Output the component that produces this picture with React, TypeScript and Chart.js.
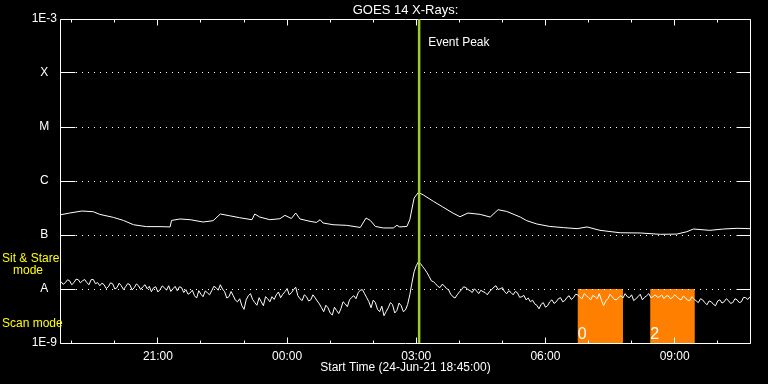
import { useEffect, useRef } from 'react';
import { Chart, registerables } from 'chart.js';

Chart.register(...registerables);

// ---- data (time in minutes after start 24-Jun-21 18:45:00) ----
const longMinutes = [
  0, 12, 29, 45, 54, 73, 87, 101, 119, 138, 152, 154, 166, 180, 198, 212, 222, 235, 249, 266,
  270, 277, 291, 305, 312, 321, 327, 333, 347, 356, 361, 365, 379, 398, 417, 425, 431, 438, 449, 463,
  468, 472, 482, 486, 492, 498, 505, 519, 532, 546, 556, 567, 584, 598, 609, 621, 640, 649, 663, 681,
  700, 719, 733, 751, 779, 807, 835, 858, 872, 881, 904, 923, 942, 960,
];
// long channel flux, units of 1e-7 W/m^2
const longFlux = [
  2.38, 2.55, 2.78, 2.7, 2.41, 2.12, 1.86, 1.55, 1.43, 1.43, 1.41, 1.86, 1.98, 1.92, 1.74, 1.84, 2.45, 2.27, 2.09, 1.92,
  2.45, 2.15, 1.92, 2.0, 2.31, 2.02, 2.55, 1.98, 1.79, 1.71, 1.92, 1.67, 1.55, 1.51, 1.38, 2.06, 1.86, 1.44, 1.35, 1.35,
  1.51, 1.41, 1.44, 1.92, 4.84, 6.15, 5.5, 4.19, 3.3, 2.55, 2.18, 2.55, 2.41, 2.15, 2.94, 2.73, 2.15, 1.84, 1.6, 1.44,
  1.37, 1.31, 1.41, 1.22, 1.1, 1.09, 1.03, 1.04, 1.15, 1.29, 1.22, 1.29, 1.33, 1.31,
];
// short channel flux, units of 1e-8 W/m^2, one sample every 3 minutes
const SHORT_STEP_MIN = 3;
const shortFlux = [
  1.37, 1.22, 1.31, 1.48, 1.42, 1.2, 1.31, 1.52, 1.49, 1.3, 1.42, 1.5, 1.31, 1.2, 1.49, 1.5, 1.25, 1.32, 1.15, 1.28,
  1.2, 1.02, 1.1, 1.3, 1.25, 1.0, 1.06, 1.28, 1.15, 0.98, 1.1, 1.26, 1.2, 0.96, 1.06, 1.24, 1.15, 0.98, 1.1, 1.2,
  1.01, 1.12, 0.89, 1.05, 1.1, 0.88, 0.97, 1.14, 1.06, 0.95, 1.15, 0.9, 1.01, 1.12, 0.93, 1.1, 1.06, 0.86, 0.97, 0.8,
  0.85, 0.95, 0.75, 0.68, 0.93, 0.8, 0.72, 0.92, 0.85, 0.78, 0.93, 1.12, 1.06, 0.95, 1.2, 1.0, 0.89, 0.68, 0.72, 0.9,
  0.75, 0.62, 0.58, 0.66, 0.49, 0.42, 0.63, 0.75, 0.82, 0.64, 0.56, 0.5, 0.69, 0.58, 0.49, 0.72, 0.66, 0.58, 0.72, 0.64,
  0.78, 0.88, 0.69, 0.8, 0.89, 1.02, 0.78, 0.85, 0.97, 1.08, 0.75, 0.66, 0.61, 0.78, 0.72, 0.6, 0.63, 0.78, 0.69, 0.6,
  0.53, 0.45, 0.38, 0.5, 0.45, 0.36, 0.33, 0.46, 0.4, 0.35, 0.43, 0.58, 0.53, 0.47, 0.63, 0.7, 0.75, 0.66, 0.85, 0.95,
  0.97, 0.82, 0.69, 0.58, 0.45, 0.62, 0.56, 0.42, 0.38, 0.48, 0.32, 0.38, 0.45, 0.56, 0.51, 0.36, 0.4, 0.55, 0.49, 0.38,
  0.41, 0.52, 0.78, 1.3, 2.09, 2.7, 3.2, 2.95, 2.59, 2.3, 2.0, 1.7, 1.42, 1.36, 1.25, 1.12, 1.06, 1.22, 1.15, 1.02,
  0.97, 0.8, 0.72, 0.68, 0.78, 0.88, 0.97, 1.1, 1.06, 0.98, 0.93, 0.86, 1.01, 0.92, 0.82, 0.95, 0.89, 0.86, 0.78, 0.9,
  0.97, 1.08, 1.15, 0.98, 1.01, 1.06, 0.89, 0.82, 0.93, 0.86, 0.78, 0.9, 0.85, 0.7, 0.72, 0.76, 0.63, 0.68, 0.58, 0.62,
  0.53, 0.5, 0.43, 0.52, 0.56, 0.46, 0.49, 0.58, 0.63, 0.54, 0.58, 0.66, 0.69, 0.58, 0.61, 0.7, 0.75, 0.64, 0.69, 0.8,
  0.78, 0.7, 0.66, 0.82, 0.75, 0.7, 0.63, 0.76, 0.72, 0.66, 0.82, 0.62, 0.49, 0.6, 0.66, 0.8, 0.72, 0.64, 0.63, 0.7,
  0.75, 0.68, 0.82, 0.72, 0.69, 0.78, 0.61, 0.66, 0.72, 0.8, 0.63, 0.7, 0.75, 0.82, 0.69, 0.72, 0.78, 0.7, 0.72, 0.78,
  0.66, 0.74, 0.75, 0.66, 0.69, 0.78, 0.72, 0.66, 0.63, 0.74, 0.69, 0.62, 0.61, 0.72, 0.66, 0.6, 0.56, 0.66, 0.63, 0.56,
  0.51, 0.6, 0.58, 0.52, 0.49, 0.6, 0.63, 0.55, 0.58, 0.66, 0.61, 0.54, 0.56, 0.66, 0.63, 0.56, 0.58, 0.7, 0.69, 0.64,
  0.72,
];

const levelValues = [1e-9, 1e-8, 1e-7, 1e-6, 1e-5, 1e-4, 1e-3];
const levelLabels = ['1E-9', 'A', 'B', 'C', 'M', 'X', '1E-3'];
const hourTickMinutes = [15, 75, 135, 195, 255, 315, 375, 435, 495, 555, 615, 675, 735, 795, 855, 915];
const labelTickMinutes = [135, 315, 495, 675, 855];
const labelTickTexts = ['21:00', '00:00', '03:00', '06:00', '09:00'];
const scanStartMin = [720, 821];
const scanEndMin = [783, 883];
const scanLabels = ['0', '2'];
const eventPeakMinute = 499;

const titleText = 'GOES 14 X-Rays:';
const xTitleText = 'Start Time (24-Jun-21 18:45:00)';
const eventText = 'Event Peak';

const FONT = '"Liberation Sans", Arial, sans-serif';

const decor = {
  id: 'decor',
  beforeDraw(chart: any) {
    const { ctx, width, height } = chart;
    ctx.save();
    ctx.fillStyle = '#000';
    ctx.fillRect(0, 0, width, height);
    ctx.restore();
  },
  beforeDatasetsDraw(chart: any) {
    const { ctx, chartArea: a } = chart;
    const x = chart.scales.x;
    const y = chart.scales.y;
    ctx.save();
    // scan-mode boxes
    ctx.fillStyle = '#ff8000';
    const yTop = y.getPixelForValue(1e-8);
    const yBot = y.getPixelForValue(1e-9);
    for (let i = 0; i < scanStartMin.length; i++) {
      const x0 = x.getPixelForValue(scanStartMin[i]);
      const x1 = x.getPixelForValue(scanEndMin[i]);
      ctx.fillRect(x0, yTop, x1 - x0, yBot - yTop);
    }
    // dotted level lines
    ctx.strokeStyle = '#fff';
    ctx.lineWidth = 1;
    ctx.setLineDash([1, 5]);
    for (let i = 1; i < levelValues.length - 1; i++) {
      const py = Math.floor(y.getPixelForValue(levelValues[i])) + 0.5;
      ctx.beginPath();
      ctx.moveTo(a.left + 15, py);
      ctx.lineTo(a.right - 14, py);
      ctx.stroke();
    }
    ctx.setLineDash([]);
    // frame
    const L = Math.floor(a.left) - 0.5;
    const R = Math.floor(a.right) + 0.5;
    const T = Math.floor(a.top) + 0.5;
    const B = Math.floor(a.bottom) + 0.5;
    ctx.beginPath();
    ctx.rect(L, T, R - L, B - T);
    ctx.stroke();
    // y ticks (inward, both sides)
    ctx.beginPath();
    for (const v of levelValues) {
      const py = Math.floor(y.getPixelForValue(v)) + 0.5;
      ctx.moveTo(L, py);
      ctx.lineTo(L + 15, py);
      ctx.moveTo(R, py);
      ctx.lineTo(R - 14, py);
    }
    // x ticks (inward, top & bottom)
    for (const m of hourTickMinutes) {
      const px = Math.floor(x.getPixelForValue(m)) + 0.5;
      const len = labelTickMinutes.includes(m) ? 6 : 3;
      ctx.moveTo(px, T);
      ctx.lineTo(px, T + len);
      ctx.moveTo(px, B);
      ctx.lineTo(px, B - len);
    }
    ctx.stroke();
    // scan labels
    ctx.fillStyle = '#fff';
    ctx.font = `16px ${FONT}`;
    ctx.textAlign = 'left';
    ctx.textBaseline = 'alphabetic';
    for (let i = 0; i < scanStartMin.length; i++) {
      const x0 = x.getPixelForValue(scanStartMin[i]);
      ctx.fillText(scanLabels[i], x0, yBot - 4);
    }
    ctx.restore();
  },
  afterDatasetsDraw(chart: any) {
    const { ctx, chartArea: a } = chart;
    const x = chart.scales.x;
    ctx.save();
    // event peak line
    const px = x.getPixelForValue(eventPeakMinute);
    ctx.strokeStyle = '#9acd32';
    ctx.lineWidth = 2.5;
    ctx.beginPath();
    ctx.moveTo(px, a.top);
    ctx.lineTo(px, a.bottom);
    ctx.stroke();
    // texts
    ctx.fillStyle = '#fff';
    ctx.textBaseline = 'middle';
    ctx.font = `12px ${FONT}`;
    ctx.textAlign = 'left';
    ctx.fillText(eventText, px + 9, 43);
    ctx.textAlign = 'center';
    ctx.font = `13px ${FONT}`;
    ctx.fillText(titleText, (a.left + a.right) / 2, 10);
    ctx.font = `12px ${FONT}`;
    ctx.fillText(xTitleText, (a.left + a.right) / 2, 368);
    ctx.fillStyle = '#ffff00';
    ctx.textAlign = 'left';
    ctx.fillText('Sit & Stare', 2, 259);
    ctx.fillText('mode', 13, 271);
    ctx.fillText('Scan mode', 2, 324);
    ctx.restore();
  },
};

export default function App() {
  const ref = useRef<HTMLCanvasElement>(null);
  useEffect(() => {
    document.body.style.margin = '0';
    document.body.style.background = '#000';
    const longData = longMinutes.map((m, i) => ({ x: m, y: longFlux[i] * 1e-7 }));
    const shortData = shortFlux.map((v, i) => ({ x: i * SHORT_STEP_MIN, y: v * 1e-8 }));
    const chart = new Chart(ref.current as HTMLCanvasElement, {
      type: 'line',
      data: {
        datasets: [
          { data: longData, borderColor: '#fff', borderWidth: 1, pointRadius: 0, tension: 0 },
          { data: shortData, borderColor: '#fff', borderWidth: 1, pointRadius: 0, tension: 0 },
        ],
      },
      options: {
        animation: false,
        responsive: false,
        devicePixelRatio: 1,
        layout: { padding: { top: 19, right: 18, left: 0, bottom: 0 } },
        plugins: { legend: { display: false }, tooltip: { enabled: false }, title: { display: false } },
        scales: {
          x: {
            type: 'linear',
            min: 0,
            max: 960,
            grid: { display: false, drawTicks: false },
            border: { display: false },
            afterBuildTicks: (s: any) => {
              s.ticks = hourTickMinutes.map((v) => ({ value: v }));
            },
            afterFit: (s: any) => {
              s.height = 41;
            },
            ticks: {
              autoSkip: false,
              maxRotation: 0,
              minRotation: 0,
              padding: 6,
              color: '#fff',
              font: { family: FONT, size: 12 },
              callback: (v: any) => {
                const i = labelTickMinutes.indexOf(Number(v));
                return i >= 0 ? labelTickTexts[i] : '';
              },
            },
          },
          y: {
            type: 'logarithmic',
            min: 1e-9,
            max: 1e-3,
            grid: { display: false, drawTicks: false },
            border: { display: false },
            afterBuildTicks: (s: any) => {
              s.ticks = levelValues.map((v) => ({ value: v }));
            },
            afterFit: (s: any) => {
              s.width = 61;
            },
            ticks: {
              autoSkip: false,
              crossAlign: 'center',
              padding: 4,
              color: '#fff',
              font: { family: FONT, size: 12 },
              callback: (_v: any, i: number) => levelLabels[i],
            },
          },
        },
      },
      plugins: [decor],
    });
    return () => chart.destroy();
  }, []);
  return (
    <div style={{ width: 768, height: 384, background: '#000' }}>
      <canvas ref={ref} width={768} height={384} style={{ display: 'block' }} />
    </div>
  );
}
